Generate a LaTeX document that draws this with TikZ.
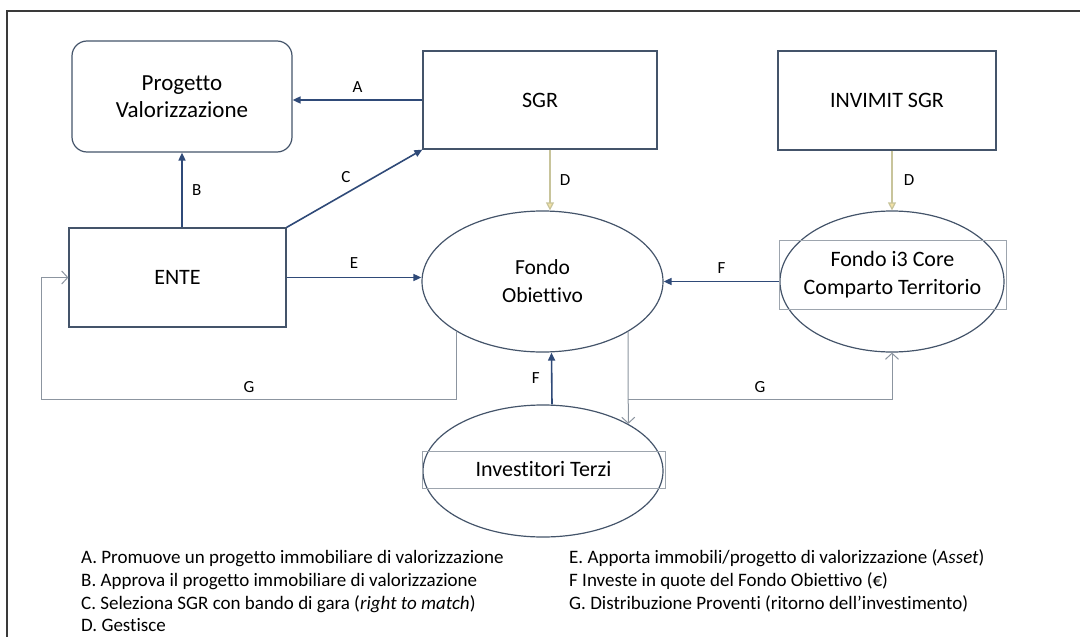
\documentclass[tikz,border=0pt]{standalone}
\usepackage{fontspec}
\setmainfont{Carlito}[Ligatures=NoCommon]
\usepackage{tikz}
\usetikzlibrary{positioning,arrows.meta,shapes.geometric,calc}
\definecolor{navyLine}{HTML}{2F4A78}
\definecolor{boxLine}{HTML}{44546A}
\definecolor{retLine}{HTML}{8C95A0}
\definecolor{khakiLine}{HTML}{C8C49B}
\definecolor{tipFill}{HTML}{F3E2A6}
\definecolor{frameLine}{HTML}{3A3A3A}

\begin{document}
\begin{tikzpicture}[
    x=1pt, y=-1pt,
    box/.style={draw=boxLine, line width=1.2pt, minimum height=99pt, align=center, font=\fontsize{22}{26}\selectfont},
    fund/.style={ellipse, draw=boxLine, line width=1.2pt, inner sep=0pt, align=center, font=\fontsize{21.5}{28}\selectfont},
    tagbox/.style={draw=retLine!85, line width=0.9pt, inner sep=0pt, align=center, font=\fontsize{22}{28}\selectfont},
    flow/.style={-{Triangle[length=8pt,width=7pt]}, navyLine, line width=1.6pt},
    manage/.style={-{Triangle[length=8pt,width=8pt,fill=tipFill]}, khakiLine, line width=1.2pt},
    ret/.style={-{Straight Barb[length=6pt,width=13pt]}, retLine, line width=1pt},
    lbl/.style={font=\fontsize{17}{20}\selectfont, text=black},
    legend/.style={anchor=base west, inner sep=0pt, font=\fontsize{19}{23}\selectfont}
  ]
  \useasboundingbox (0,0) rectangle (1080,637);
  \draw[frameLine, line width=1.3pt] (7,637) -- (7,11) -- (1080,11);

  \node[box, rounded corners=15pt, minimum width=220pt, minimum height=111pt, font=\fontsize{23}{27.5}\selectfont] (prog) at (182,96.5) {Progetto\\Valorizzazione};
  \node[box, minimum width=234pt, minimum height=98pt] (sgr) at (540,100) {SGR};
  \node[box, minimum width=218pt] (invimit) at (887,100.5) {INVIMIT SGR};
  \node[box, minimum width=217pt] (ente) at (177.5,277.5) {ENTE};

  \node[fund, minimum width=241pt, minimum height=141pt] (fondo) at (542.5,281.5) {Fondo\\Obiettivo};
  \node[fund, minimum width=224pt, minimum height=141pt] (i3) at (892,281.5) {};
  \node[tagbox, minimum width=227pt, minimum height=69pt] (i3txt) at (892.5,274.5) {Fondo i3 Core\\Comparto Territorio};
  \node[fund, minimum width=240pt, minimum height=132pt] (inv) at (543,471) {};
  \node[tagbox, minimum width=243pt, minimum height=37pt] (invtxt) at (543.5,469.5) {Investitori Terzi};

  \draw[flow] (sgr.west) -- (sgr.west -| prog.east) node[lbl, midway, above=3pt] {A};
  \draw[flow] (prog.south |- ente.north) -- (prog.south) node[lbl, midway, right=6pt] {B};
  \draw[flow] (ente.north east) -- (sgr.south west) node[lbl, midway, above left=2pt and 0pt] {C};
  \draw[flow] (ente.east) -- (ente.east -| fondo.west) node[lbl, midway, above=5pt] {E};
  \draw[manage] ([xshift=10pt]sgr.south) -- ([xshift=10pt]sgr.south |- fondo.north) node[lbl, midway, right=6pt] {D};
  \draw[manage] (invimit.south -| i3.north) -- (i3.north) node[lbl, midway, right=8pt] {D};
  \draw[flow] (i3.west) -- (fondo.east) node[lbl, midway, above=4pt] {F};
  \draw[flow] ([xshift=9pt]inv.north) -- ([xshift=9pt]fondo.south) node[lbl, midway, left=8pt] {F};

  % returns
  \coordinate (gl) at (41,399);
  \draw[ret] (fondo.south west) |- (gl) |- (ente.west);
  \path (fondo.south west |- gl) -- (gl) node[lbl, midway, above=3pt] {G};
  \draw[ret] (fondo.south east) -- (inv.north east);
  \draw[ret] (fondo.south east |- gl) -| (i3.south) node[lbl, pos=0.25, above=3pt] {G};

  \node[legend] (legA) at (81,563) {A. Promuove un progetto immobiliare di valorizzazione};
  \node[legend] (legB) at (81,586) {B. Approva il progetto immobiliare di valorizzazione};
  \node[legend] (legC) at (81,609) {C. Seleziona SGR con bando di gara (\textit{right to match})};
  \node[legend] (legD) at (81,631.5) {D. Gestisce};
  \node[legend] (legE) at (569,563) {E. Apporta immobili/progetto di valorizzazione (\textit{Asset})};
  \node[legend] (legF) at (569,586) {F Investe in quote del Fondo Obiettivo (€)};
  \node[legend] (legG) at (569,609) {G. Distribuzione Proventi (ritorno dell’investimento)};
\end{tikzpicture}
\end{document}
